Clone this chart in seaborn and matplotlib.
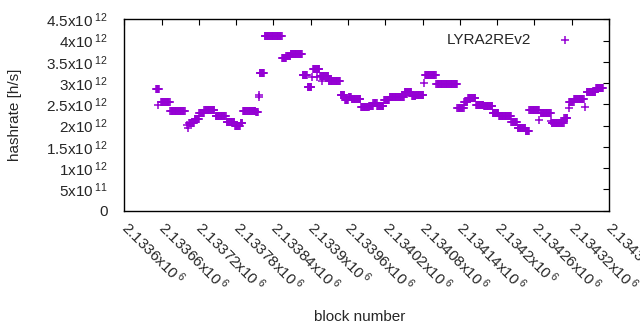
import matplotlib
matplotlib.use("Agg")
import matplotlib.pyplot as plt
import numpy as np
import pandas as pd
import seaborn as sns

# stretches of consecutive blocks sharing one hashrate estimate (x1e12 h/s)
run_start = [2133651, 2133659, 2133674, 2133704, 2133713, 2133721, 2133729, 2133747,
             2133765, 2133778, 2133787, 2133791, 2133812, 2133818, 2133826, 2133854,
             2133861, 2133868, 2133887, 2133895, 2133904, 2133915, 2133929, 2133948,
             2133955, 2133961, 2133966, 2133981, 2133994, 2134001, 2134007, 2134018,
             2134027, 2134051, 2134063, 2134069, 2134084, 2134102, 2134136, 2134147,
             2134153, 2134166, 2134179, 2134193, 2134203, 2134223, 2134233, 2134246,
             2134252, 2134270, 2134288, 2134308, 2134316, 2134324, 2134344, 2134359]
run_end = [2133656, 2133673, 2133697, 2133712, 2133720, 2133728, 2133745, 2133763,
           2133777, 2133786, 2133790, 2133811, 2133815, 2133825, 2133853, 2133860,
           2133867, 2133886, 2133894, 2133901, 2133914, 2133928, 2133947, 2133954,
           2133960, 2133965, 2133980, 2133993, 2134000, 2134006, 2134017, 2134026,
           2134050, 2134062, 2134068, 2134081, 2134101, 2134135, 2134146, 2134152,
           2134165, 2134178, 2134192, 2134202, 2134222, 2134232, 2134245, 2134251,
           2134267, 2134286, 2134307, 2134313, 2134323, 2134339, 2134358, 2134370]
run_rate = [2.86, 2.55, 2.35, 2.07, 2.16, 2.30, 2.36, 2.22,
            2.08, 1.99, 2.06, 2.34, 2.31, 3.23, 4.10, 3.58,
            3.64, 3.68, 3.18, 2.90, 3.33, 3.17, 3.05, 2.73,
            2.61, 2.68, 2.62, 2.43, 2.46, 2.53, 2.47, 2.60,
            2.67, 2.79, 2.69, 2.72, 3.20, 2.97, 2.42, 2.55,
            2.64, 2.48, 2.45, 2.29, 2.23, 2.09, 1.95, 1.88,
            2.37, 2.29, 2.06, 2.18, 2.56, 2.62, 2.79, 2.89]

# odd single blocks
single_block = [2133654, 2133701, 2133702, 2133816, 2133817, 2133902, 2133910, 2133918,
                2134082, 2134268, 2134287, 2134315, 2134342]
single_rate = [2.49, 2.01, 1.95, 2.72, 2.67, 3.15, 3.14, 3.05,
               3.00, 2.14, 2.11, 2.42, 2.44]

xticks = [2133600 + 60 * i for i in range(14)]
yticks = [0, 0.5e12, 1e12, 1.5e12, 2e12, 2.5e12, 3e12, 3.5e12, 4e12, 4.5e12]
ytick_labels = ["0", "5x10", "1x10", "1.5x10", "2x10", "2.5x10", "3x10", "3.5x10", "4x10", "4.5x10"]
ytick_exp = ["", "11", "12", "12", "12", "12", "12", "12", "12", "12"]


def sup(base, exp):
    if exp == "":
        return base
    return r"$\mathregular{" + base + r"\,{}^{" + exp + r"}}$"


blocks = []
rates = []
for s, e, r in zip(run_start, run_end, run_rate):
    for b in range(s, e + 1):
        blocks.append(b)
        rates.append(r * 1e12)
for b, r in zip(single_block, single_rate):
    blocks.append(b)
    rates.append(r * 1e12)
df = pd.DataFrame({"block": blocks, "hashrate": rates})

sns.set_style("white")
plt.rcParams["font.family"] = ["Liberation Sans", "DejaVu Sans"]
plt.rcParams["mathtext.fontset"] = "custom"
plt.rcParams["mathtext.rm"] = "Liberation Sans"
plt.rcParams["xtick.direction"] = "in"
plt.rcParams["ytick.direction"] = "in"

fig = plt.figure(figsize=(6.4, 3.3), dpi=100)
ax = fig.add_axes([0.1942, 0.3615, 0.7574, 0.58])
sns.scatterplot(data=df, x="block", y="hashrate", marker="+", s=38, color="#9400D3",
                linewidth=1.1, label="LYRA2REv2", ax=ax)

ax.set_xlim(2133600, 2134380)
ax.set_ylim(0, 4.5e12)
ax.set_xticks(xticks)
ax.set_xticklabels([sup("%gx10" % (v / 1e6), "6") for v in xticks], rotation=-45,
                   ha="left", va="center", rotation_mode="anchor", fontsize=11)
ax.set_yticks(yticks)
ax.set_yticklabels([sup(b, e) for b, e in zip(ytick_labels, ytick_exp)], fontsize=11,
                   va="center_baseline")
ax.tick_params(axis="both", which="both", length=4, width=0.8, top=True, right=True,
               color="black")
ax.tick_params(axis="y", pad=12)
ax.tick_params(axis="x", pad=10)
for sp in ax.spines.values():
    sp.set_color("black")
    sp.set_linewidth(1.0)

ax.set_xlabel("block number", fontsize=11)
ax.set_ylabel("hashrate [h/s]", fontsize=11)
ax.xaxis.set_label_coords(0.486, -0.52)
ax.yaxis.set_label_coords(-0.212, 0.5)

ax.legend(loc="upper right", markerfirst=False, frameon=False, fontsize=11,
          handlelength=4, handletextpad=0.2, borderaxespad=0.5)

fig.savefig("out.png", dpi=100)
